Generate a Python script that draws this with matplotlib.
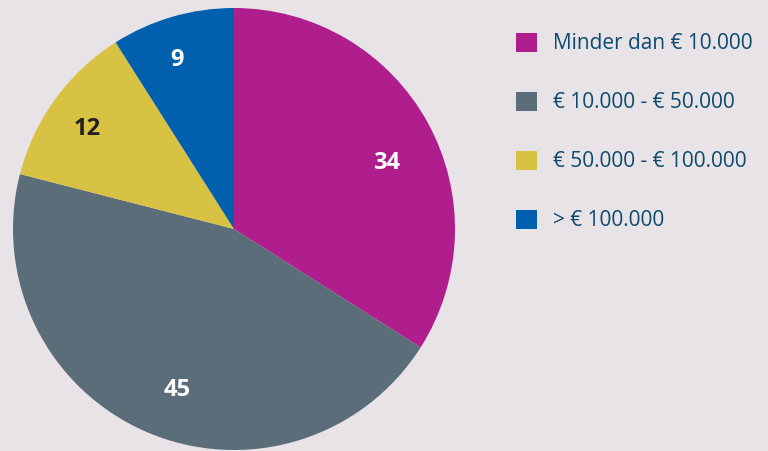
import matplotlib
matplotlib.use("Agg")
import matplotlib.pyplot as plt

categories = ["Minder dan € 10.000", "€ 10.000 - € 50.000", "€ 50.000 - € 100.000", "> € 100.000"]
values = [34, 45, 12, 9]
colors = ["#b01e8e", "#5b6d78", "#d8c243", "#0060ae"]
label_colors = ["white", "white", "#231f20", "white"]
# label anchor positions in pixel coordinates (x, y from top)
label_pos = [(387, 163), (177, 390), (87, 129), (177, 60)]

bg = "#e8e3e7"
W, H = 768, 451
fig = plt.figure(figsize=(W / 100, H / 100), dpi=100, facecolor=bg)
ax = fig.add_axes([0, 0, 1, 1])
ax.set_facecolor(bg)

wedges, texts = ax.pie(values, labels=[str(v) for v in values], colors=colors,
                       startangle=90, counterclock=False,
                       center=(234, H - 229), radius=221,
                       labeldistance=0.78, frame=True,
                       wedgeprops=dict(linewidth=0),
                       textprops=dict(fontsize=17, fontweight="bold", family="Open Sans",
                                      ha="center", va="center"))
for t, c, p in zip(texts, label_colors, label_pos):
    t.set_color(c)
    t.set_ha("center")
    t.set_va("center")
    t.set_position((p[0], H - p[1]))
ax.set_xlim(0, W)
ax.set_ylim(0, H)
ax.set_aspect("equal")
ax.axis("off")

leg = fig.legend(wedges, categories, loc="upper left",
                 bbox_to_anchor=(516 / W, 1 - 33 / H), frameon=False,
                 prop=dict(family="Open Sans", size=15),
                 labelcolor="#0d4a6e", handlelength=1.0, handleheight=1.0,
                 labelspacing=1.8, handletextpad=0.77, borderpad=0, borderaxespad=0)

fig.savefig("out.png", dpi=100, facecolor=bg)
